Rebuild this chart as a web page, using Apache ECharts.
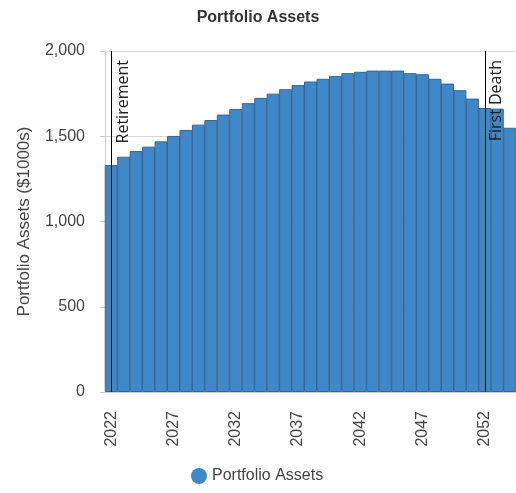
<!DOCTYPE html>
<html>
<head>
<meta charset="utf-8">
<script src="https://cdn.jsdelivr.net/npm/echarts@6/dist/echarts.min.js"></script>
<style>
  html, body { margin: 0; padding: 0; background: #fff; }
  #chart { width: 516px; height: 493px; }
</style>
</head>
<body>
<div id="chart"></div>
<script>
// 年份（类目）
const years = [
  '2022', '2023', '2024', '2025', '2026', '2027', '2028', '2029', '2030', '2031', '2032',
  '2033', '2034', '2035', '2036', '2037', '2038', '2039', '2040', '2041', '2042', '2043',
  '2044', '2045', '2046', '2047', '2048', '2049', '2050', '2051', '2052', '2053', '2054'
]
// 资产值 ($1000s)
const assets = [
  1331, 1380, 1413, 1439, 1470, 1502, 1537, 1568, 1595, 1627, 1660,
  1694, 1725, 1750, 1776, 1800, 1821, 1837, 1854, 1870, 1878, 1885,
  1885, 1885, 1870, 1864, 1837, 1809, 1770, 1721, 1666, 1662, 1550
]
// 事件标线
const eventYears = ['2022', '2052']
const eventNames = ['Retirement', 'First Death']
// y 轴刻度
const yTicks = [0, 500, 1000, 1500, 2000]

const FONT = '"Liberation Sans", Arial, sans-serif'

const myChart = echarts.init(document.getElementById('chart'))

const option = {
  animation: false,
  title: {
    text: 'Portfolio Assets',
    left: 'center',
    top: 5,
    textStyle: { color: '#333', fontSize: 16, fontWeight: 'bold', fontFamily: FONT }
  },
  legend: {
    bottom: 4,
    left: 186,
    icon: 'circle',
    itemWidth: 16,
    itemHeight: 16,
    itemGap: 10,
    itemStyle: { borderWidth: 0 },
    textStyle: { color: '#444', fontSize: 16, fontFamily: FONT }
  },
  grid: {
    left: 105,
    right: 0,
    top: 51,
    bottom: 101
  },
  xAxis: {
    type: 'category',
    data: years,
    axisLine: { lineStyle: { color: '#ccc' } },
    axisTick: {
      alignWithLabel: true,
      interval: 4,
      length: 6,
      lineStyle: { color: '#ccc' }
    },
    axisLabel: {
      interval: 4,
      rotate: 90,
      margin: 19,
      color: '#444',
      fontSize: 16,
      fontFamily: FONT
    }
  },
  yAxis: {
    type: 'value',
    min: yTicks[0],
    max: yTicks[yTicks.length - 1],
    interval: 500,
    name: 'Portfolio Assets ($1000s)',
    nameLocation: 'middle',
    nameGap: 72,
    nameTextStyle: { color: '#444', fontSize: 17, fontFamily: FONT },
    axisLine: { show: true, lineStyle: { color: '#ccc' } },
    axisTick: { show: true, length: 5, lineStyle: { color: '#ccc' } },
    splitLine: { lineStyle: { color: '#d9d9d9' } },
    axisLabel: {
      margin: 20,
      color: '#444',
      fontSize: 16,
      fontFamily: FONT,
      formatter: v => v.toLocaleString('en-US')
    }
  },
  series: [
    {
      name: 'Portfolio Assets',
      type: 'bar',
      data: assets,
      barWidth: '104%',
      itemStyle: {
        color: '#3f88c8',
        borderColor: '#3a6590',
        borderWidth: 1
      },
      markLine: {
        silent: true,
        symbol: 'none',
        lineStyle: { color: '#000', width: 1, type: 'solid' },
        label: {
          formatter: '{b}',
          position: 'insideEndBottom',
          distance: 4,
          padding: [0, 5, 0, 0],
          color: '#222',
          fontSize: 16,
          fontFamily: '"Open Sans", "Noto Sans", sans-serif'
        },
        data: eventYears.map((y, i) => ({ xAxis: y, name: eventNames[i] }))
      }
    }
  ]
}

myChart.setOption(option)
</script>
</body>
</html>
